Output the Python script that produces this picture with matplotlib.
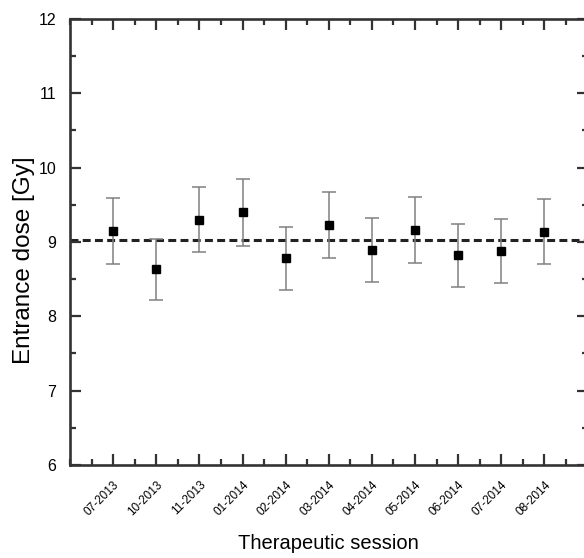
import matplotlib.pyplot as plt
from matplotlib.ticker import MultipleLocator

plt.rcParams['font.family'] = ['Liberation Sans', 'DejaVu Sans']

sessions = ['07-2013', '10-2013', '11-2013', '01-2014', '02-2014', '03-2014',
            '04-2014', '05-2014', '06-2014', '07-2014', '08-2014']
dose = [9.15, 8.63, 9.30, 9.40, 8.78, 9.23, 8.89, 9.16, 8.82, 8.88, 9.14]
err = [0.44, 0.41, 0.44, 0.45, 0.42, 0.44, 0.43, 0.44, 0.42, 0.43, 0.44]
mean_dose = 9.03

x = list(range(1, len(sessions) + 1))

fig = plt.figure(figsize=(5.84, 5.58), dpi=100)
ax = fig.add_axes([0.12, 0.1667, 0.886, 0.7993])

ax.errorbar(x, dose, yerr=err, fmt='none', ecolor='#808080', elinewidth=1.1,
            capsize=5, capthick=1.1, zorder=2)
ax.plot(x, dose, 's', color='black', markersize=5.5, zorder=3)
ax.axhline(mean_dose, color='#222222', linestyle=(0, (2.6, 1.4)), linewidth=2.2, zorder=1)

ax.set_xlim(0, 12)
ax.set_ylim(6, 12)
ax.set_xticks(x)
ax.set_xticklabels(sessions, rotation=45, ha='right', rotation_mode='anchor')
ax.xaxis.set_minor_locator(MultipleLocator(0.5))
ax.yaxis.set_major_locator(MultipleLocator(1))
ax.yaxis.set_minor_locator(MultipleLocator(0.5))
ax.tick_params(which='both', direction='in', top=True, right=True, width=1.6, color='#333333')
ax.tick_params(which='major', length=8, labelsize=11.5, pad=10)
ax.tick_params(axis='x', which='major', labelsize=8.5, pad=10)
ax.tick_params(which='minor', length=4.5)
for s in ax.spines.values():
    s.set_linewidth(1.9)
    s.set_color('#333333')

ax.set_xlabel('Therapeutic session', fontsize=14.5, va='center')
ax.set_ylabel('Entrance dose [Gy]', fontsize=17.5, va='center')
ax.xaxis.set_label_coords(0.5, -0.175)
ax.yaxis.set_label_coords(-0.09, 0.46)

fig.savefig('out.png', dpi=100)
